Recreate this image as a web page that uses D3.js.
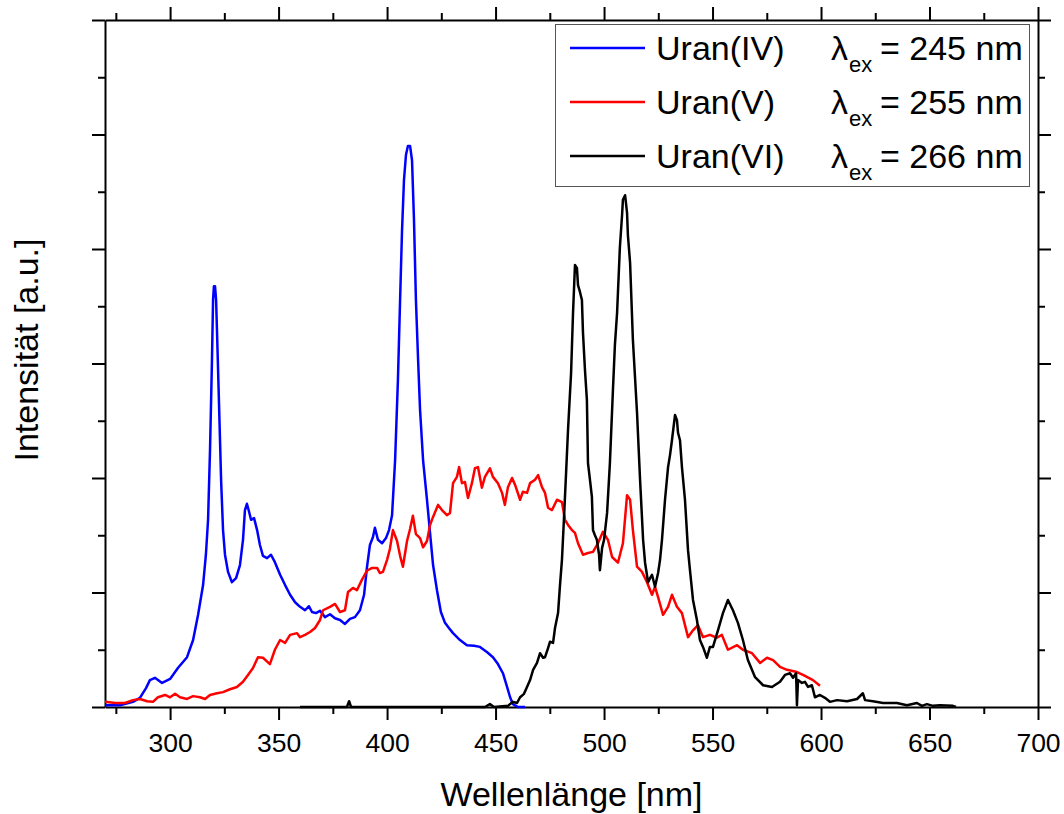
<!DOCTYPE html>
<html>
<head>
<meta charset="utf-8">
<script src="https://cdn.jsdelivr.net/npm/d3@7"></script>
<style>
  html, body { margin: 0; padding: 0; background: #fff; }
  svg { display: block; font-family: "Liberation Sans", Arial, sans-serif; }
</style>
</head>
<body>
<svg id="chart" width="1064" height="814"></svg>
<script>
// Emission spectra of uranium species in different oxidation states
// wavelength in nm, intensity in arbitrary units

const uranIV = [
  [270,0.03],[276.9,0.03],[282.9,0.09],[286.1,0.16],[288.9,0.33],[290.7,0.47],[293.0,0.51],[296.3,0.42],
  [300.0,0.49],[303.6,0.68],[307.8,0.87],[310.6,1.17],[312.9,1.61],[315.2,2.13],[316.5,2.66],[317.5,3.27],
  [318.4,4.49],[319.3,6.06],[319.8,7.11],[320.2,7.35],[320.7,7.35],[321.2,7.11],[321.6,6.59],[322.5,5.36],
  [323.5,3.97],[324.4,3.09],[325.3,2.66],[326.7,2.36],[328.5,2.18],[330.4,2.25],[332.2,2.48],[333.6,2.92],
  [334.5,3.44],[335.4,3.55],[336.4,3.41],[337.3,3.27],[338.7,3.30],[340.1,3.09],[341.4,2.83],[342.8,2.64],
  [344.7,2.60],[346.5,2.66],[348.3,2.53],[350.7,2.31],[353.0,2.13],[355.3,1.96],[357.6,1.83],[359.9,1.75],
  [362.2,1.69],[364.0,1.76],[365.4,1.66],[367.2,1.64],[369.1,1.68],[371.4,1.57],[373.7,1.62],[376.0,1.55],
  [378.3,1.52],[380.6,1.45],[382.9,1.54],[385.2,1.57],[387.5,1.69],[389.4,1.96],[390.7,2.43],[392.1,2.83],
  [393.5,2.97],[394.4,3.13],[395.8,2.92],[397.7,2.86],[399.5,2.95],[400.9,3.09],[402.3,3.35],[403.7,4.31],
  [405.0,5.71],[406.0,7.11],[406.9,8.33],[407.8,9.21],[408.7,9.64],[409.6,9.80],[410.6,9.80],[411.5,9.55],
  [412.4,8.51],[413.3,7.11],[414.3,6.06],[415.2,5.19],[416.6,4.31],[418.4,3.62],[419.8,3.04],[421.2,2.48],
  [423.0,2.04],[424.8,1.66],[426.7,1.47],[428.5,1.38],[430.4,1.29],[433.6,1.17],[436.8,1.08],[440.1,1.07],
  [442.8,1.05],[446.0,0.96],[448.8,0.87],[451.1,0.75],[453.4,0.59],[455.3,0.35],[456.7,0.17],[458.0,0.05],
  [460.3,0],[463.6,0]
];

const uranV = [
  [270,0.09],[274.6,0.07],[279.2,0.07],[282.9,0.12],[286.1,0.14],[289.4,0.10],[292.1,0.09],[294.4,0.17],
  [297.7,0.21],[300.0,0.17],[302.3,0.23],[304.6,0.17],[307.8,0.14],[310.6,0.19],[313.8,0.17],[316.1,0.14],
  [318.4,0.21],[321.6,0.24],[324.4,0.26],[327.6,0.31],[330.8,0.35],[333.6,0.44],[335.9,0.56],[338.2,0.68],
  [340.5,0.87],[342.8,0.86],[346.0,0.75],[348.3,1.00],[350.7,1.17],[353.0,1.12],[355.3,1.26],[358.5,1.29],
  [359.9,1.22],[362.2,1.26],[364.5,1.31],[366.8,1.38],[369.1,1.52],[370.5,1.69],[373.7,1.75],[376.0,1.80],
  [378.3,1.66],[380.6,1.69],[382.0,2.01],[384.3,2.08],[386.1,2.04],[388.4,2.22],[390.7,2.38],[393.1,2.43],
  [395.4,2.43],[396.7,2.34],[398.1,2.36],[400.0,2.57],[401.3,2.76],[402.7,3.09],[404.6,2.90],[406.0,2.64],
  [407.3,2.45],[409.2,2.90],[410.6,3.11],[411.9,3.34],[413.3,3.02],[415.2,2.95],[416.6,2.79],[418.4,2.90],
  [419.8,3.18],[421.2,3.32],[423.5,3.53],[425.3,3.44],[427.6,3.35],[429.0,3.39],[430.4,3.91],[432.2,4.02],
  [433.2,4.19],[434.5,3.91],[435.9,3.93],[437.3,3.65],[439.1,3.91],[440.5,4.17],[441.9,4.19],[443.7,3.83],
  [445.1,4.02],[447.4,4.17],[448.8,4.02],[451.1,3.91],[453.0,3.74],[454.3,3.53],[455.7,3.84],[457.6,4.00],
  [459.0,3.88],[461.3,3.62],[462.6,3.76],[464.5,3.74],[465.9,3.91],[468.2,3.97],[469.6,4.05],[471.4,3.84],
  [472.8,3.74],[474.2,3.48],[476.0,3.44],[478.3,3.62],[480.6,3.58],[482.0,3.27],[483.4,3.18],[485.2,3.09],
  [486.6,3.04],[488.0,2.86],[490.3,2.66],[492.6,2.69],[494.9,2.71],[497.2,2.86],[499.5,3.06],[501.8,2.92],
  [503.7,2.62],[506.4,2.52],[508.7,2.86],[510.6,3.70],[512.0,3.62],[513.3,3.09],[515.2,2.45],[517.5,2.36],
  [519.8,2.18],[522.1,1.96],[523.5,2.10],[524.9,1.92],[527.2,1.61],[529.5,1.75],[531.3,1.96],[533.6,1.75],
  [535.9,1.64],[538.7,1.22],[541.0,1.34],[543.3,1.43],[545.6,1.22],[548.8,1.26],[552.0,1.21],[554.3,1.26],
  [557.1,1.00],[561.3,1.08],[564.0,1.00],[568.2,0.94],[571.9,0.77],[575.1,0.86],[577.9,0.82],[581.1,0.70],
  [584.3,0.65],[588.9,0.61],[591.7,0.56],[596.3,0.47],[599.5,0.37]
];

const uranVI = [
  [359.9,0],[381.5,0],[382.5,0.10],[383.4,0],[445.1,0],[447.4,0.05],[449.3,0],[455.7,0.02],
  [458.0,0.09],[459.9,0.07],[461.3,0.17],[463.1,0.23],[464.5,0.35],[465.9,0.47],[467.3,0.65],[469.1,0.77],
  [470.5,0.94],[471.9,0.86],[472.8,0.87],[474.2,1.03],[475.1,1.14],[476.5,1.12],[477.4,1.38],[478.8,1.64],
  [479.7,2.13],[480.6,2.57],[481.5,3.27],[482.5,4.09],[483.4,4.84],[484.8,5.83],[485.7,6.88],[486.6,7.72],
  [487.5,7.67],[488.0,7.37],[488.9,7.25],[489.8,7.11],[490.3,6.53],[491.2,5.89],[492.1,5.36],[492.6,4.26],
  [493.5,3.97],[494.4,3.67],[494.9,3.09],[495.8,3.00],[496.7,2.92],[497.7,2.66],[498.1,2.39],[499.1,2.78],
  [500.0,2.92],[501.4,3.39],[502.7,4.26],[504.1,5.54],[505.0,6.32],[506.0,6.88],[507.3,8.03],[508.3,8.59],
  [508.7,8.86],[509.7,8.94],[510.6,8.63],[511.0,8.24],[512.0,7.76],[513.3,6.41],[515.2,5.14],[516.6,3.97],
  [518.0,2.92],[518.9,2.52],[520.3,2.18],[521.2,2.25],[522.1,2.31],[523.5,2.10],[524.9,2.34],[525.8,2.57],
  [526.7,2.92],[528.1,3.62],[529.5,4.19],[530.4,4.40],[531.3,4.66],[532.7,5.10],[533.6,5.01],[534.1,4.79],
  [535.0,4.66],[535.9,4.19],[537.3,3.62],[538.7,2.74],[539.6,2.39],[541.0,1.87],[542.8,1.52],[544.2,1.17],
  [545.6,1.05],[547.4,0.86],[548.8,1.05],[550.2,1.05],[552.5,1.34],[554.8,1.64],[557.1,1.87],[559.4,1.69],
  [561.7,1.47],[564.0,1.17],[566.3,0.82],[569.6,0.52],[573.3,0.38],[577.4,0.35],[581.1,0.44],[583.4,0.56],
  [585.7,0.59],[587.1,0.51],[588.5,0.59],[588.9,0.03],[589.4,0.47],[591.2,0.42],[592.6,0.44],[594.0,0.35],
  [595.8,0.38],[597.2,0.17],[599.5,0.21],[601.8,0.16],[604.1,0.09],[607.4,0.12],[612.0,0.10],[616.6,0.14],
  [619.3,0.24],[620.3,0.12],[623.9,0.10],[628.6,0.07],[635.0,0.07],[639.6,0.03],[644.2,0.07],[646.5,0.02],
  [648.8,0.05],[651.6,0.02],[654.8,0.03],[660.8,0.02],[662.2,0]
];

const seriesNames = ["Uran(IV)", "Uran(V)", "Uran(VI)"];
const excitation = ["245 nm", "255 nm", "266 nm"];
const seriesColors = ["#0000ff", "#ff0000", "#000000"];
const seriesData = [uranIV, uranV, uranVI];

const xMajorTicks = [300, 350, 400, 450, 500, 550, 600, 650, 700];
const xMinorTicks = [275, 325, 375, 425, 475, 525, 575, 625, 675];
const yMajorTicks = [0, 2, 4, 6, 8, 10, 12];
const yMinorTicks = [1, 3, 5, 7, 9, 11];

const xLabel = "Wellenlänge [nm]";
const yLabel = "Intensität [a.u.]";

// ---- layout ----
const svg = d3.select("#chart");
const plot = { left: 105, right: 1038, top: 20, bottom: 707 };

const x = d3.scaleLinear().domain([270, 700]).range([plot.left, plot.right]);
const y = d3.scaleLinear().domain([0, 12]).range([plot.bottom, plot.top]);

const axisStroke = 2;
const majorLen = 13, minorLen = 7;

// axis groups: bottom (labelled), top, left, right (unlabelled)
function styleAxis(g) {
  g.selectAll("path").attr("stroke", "#000").attr("stroke-width", axisStroke);
  g.selectAll("line").attr("stroke", "#000").attr("stroke-width", axisStroke);
}

function addAxis(axisFn, scale, majors, minors, transform, labelled) {
  const gMaj = svg.append("g").attr("transform", transform)
    .call(axisFn(scale).tickValues(majors).tickSizeInner(majorLen).tickSizeOuter(0)
      .tickPadding(13).tickFormat(labelled ? d3.format("d") : () => ""));
  styleAxis(gMaj);
  const gMin = svg.append("g").attr("transform", transform)
    .call(axisFn(scale).tickValues(minors).tickSizeInner(minorLen).tickSizeOuter(0).tickFormat(() => ""));
  gMin.select("path").remove();
  styleAxis(gMin);
  return gMaj;
}

const gx = addAxis(d3.axisBottom, x, xMajorTicks, xMinorTicks, `translate(0,${plot.bottom})`, true);
gx.selectAll("text")
  .attr("font-size", 26.5)
  .attr("fill", "#000")
  .attr("font-family", "Liberation Sans, Arial, sans-serif");

addAxis(d3.axisTop, x, xMajorTicks, xMinorTicks, `translate(0,${plot.top})`, false);
addAxis(d3.axisLeft, y, yMajorTicks, yMinorTicks, `translate(${plot.left},0)`, false);
addAxis(d3.axisRight, y, yMajorTicks, yMinorTicks, `translate(${plot.right},0)`, false);

// ---- spectra ----
const line = d3.line().x(d => x(d[0])).y(d => y(d[1]));

seriesData.forEach((data, i) => {
  svg.append("path")
    .datum(data)
    .attr("fill", "none")
    .attr("stroke", seriesColors[i])
    .attr("stroke-width", 2.5)
    .attr("stroke-linejoin", "round")
    .attr("d", line);
});

// ---- axis titles ----
svg.append("text")
  .attr("x", (plot.left + plot.right) / 2)
  .attr("y", 806)
  .attr("text-anchor", "middle")
  .attr("font-size", 34)
  .text(xLabel);

svg.append("text")
  .attr("transform", `translate(38,350) rotate(-90)`)
  .attr("text-anchor", "middle")
  .attr("font-size", 34)
  .text(yLabel);

// ---- legend ----
const legend = svg.append("g");
legend.append("rect")
  .attr("x", 555.5).attr("y", 24.5)
  .attr("width", 474).attr("height", 162)
  .attr("fill", "#fff")
  .attr("stroke", "#555")
  .attr("stroke-width", 1);

const rowY = [48, 102, 156];
seriesNames.forEach((name, i) => {
  const cy = rowY[i];
  legend.append("line")
    .attr("x1", 570).attr("x2", 645)
    .attr("y1", cy).attr("y2", cy)
    .attr("stroke", seriesColors[i]).attr("stroke-width", 2.5);
  legend.append("text")
    .attr("x", 656).attr("y", cy + 12)
    .attr("font-size", 34)
    .text(name);
  legend.append("text")
    .attr("x", 831).attr("y", cy + 12)
    .attr("font-size", 34)
    .text("λ");
  legend.append("text")
    .attr("x", 849).attr("y", cy + 24)
    .attr("font-size", 22)
    .text("ex");
  legend.append("text")
    .attr("x", 880).attr("y", cy + 12)
    .attr("font-size", 34)
    .text("= " + excitation[i]);
});
</script>
</body>
</html>
